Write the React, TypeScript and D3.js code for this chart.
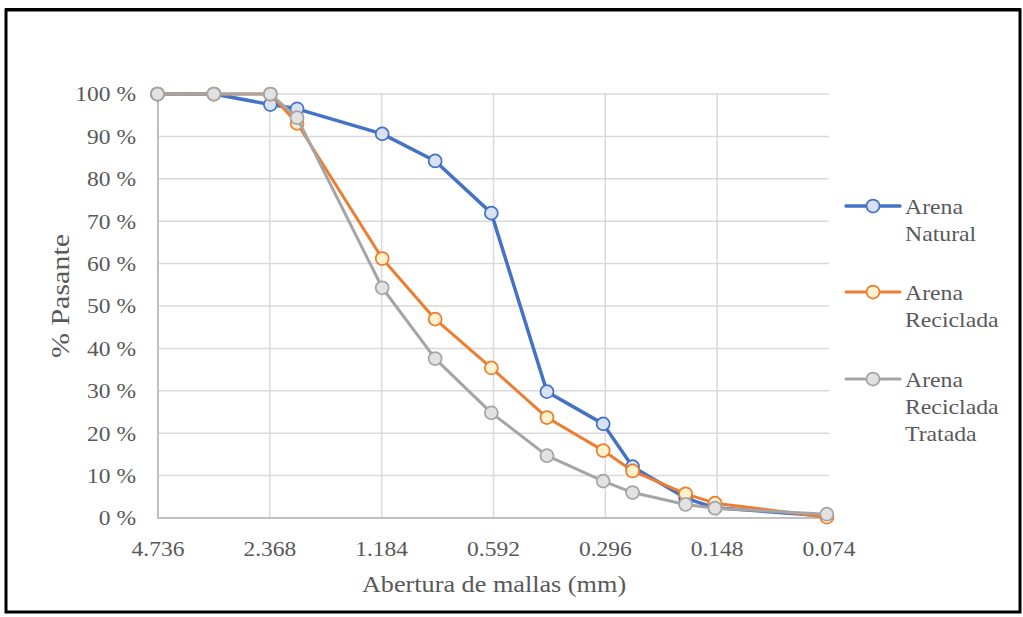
import React, { useEffect } from "react";
import * as d3 from "d3";

const sieves = [4.75, 3.35, 2.36, 2.0, 1.18, 0.85, 0.6, 0.425, 0.3, 0.25, 0.18, 0.15, 0.075];
const arenaNatural = [100, 100, 97.5, 96.5, 90.6, 84.2, 71.9, 29.8, 22.2, 12.1, 4.7, 2.4, 0.5];
const arenaReciclada = [100, 100, 100, 93.1, 61.2, 46.9, 35.4, 23.7, 15.9, 11.1, 5.7, 3.5, 0.2];
const arenaTratada = [100, 100, 100, 94.4, 54.3, 37.6, 24.8, 14.7, 8.7, 6.0, 3.2, 2.3, 0.9];
const xTicks = [4.736, 2.368, 1.184, 0.592, 0.296, 0.148, 0.074];
const xTickLabels = ["4.736", "2.368", "1.184", "0.592", "0.296", "0.148", "0.074"];
const yTicks = [0, 10, 20, 30, 40, 50, 60, 70, 80, 90, 100];

const series = [
  { name: ["Arena", "Natural"], values: arenaNatural, stroke: "#4472C4", fill: "#D9E2F3", width: 3.5 },
  { name: ["Arena", "Reciclada"], values: arenaReciclada, stroke: "#ED7D31", fill: "#FFF2CC", width: 3 },
  { name: ["Arena", "Reciclada", "Tratada"], values: arenaTratada, stroke: "#A5A5A5", fill: "#E2E2E2", width: 3 },
];

const W = 1023;
const H = 617;
const FONT = "'Liberation Serif', 'Times New Roman', serif";
const SX = 1.12;

function T(props: { x: number; y: number; anchor?: string; size: number; sx?: number; children: any; dy?: string }) {
  const { x, y, anchor = "start", size, sx = SX, children, dy } = props;
  return (
    <text
      transform={`translate(${x},${y}) scale(${sx},1)`}
      textAnchor={anchor}
      fontSize={size}
      fill="#595959"
      dy={dy}
    >
      {children}
    </text>
  );
}

export default function App() {
  useEffect(() => {
    document.body.style.margin = "0";
  }, []);

  const x = d3.scaleLog().base(2).domain([4.736, 0.074]).range([158, 829]);
  const y = d3.scaleLinear().domain([0, 100]).range([518, 94]);
  const line = d3
    .line<number>()
    .x((_, i) => x(sieves[i]))
    .y((d) => y(d));

  const legendY = [206, 292, 379];

  return (
    <svg width={W} height={H} style={{ display: "block" }} fontFamily={FONT}>
      <rect x={0} y={0} width={W} height={H} fill="#fff" />
      {/* frame */}
      <rect x={6} y={10} width={1014} height={602} fill="none" stroke="#000" strokeWidth={3} />
      <line x1={5} x2={1021} y1={9.5} y2={9.5} stroke="#000" strokeWidth={3} />

      {/* horizontal grid */}
      {yTicks.map((t) =>
        t === 0 ? null : (
          <line key={"h" + t} x1={158} x2={829} y1={y(t)} y2={y(t)} stroke="#D9D9D9" strokeWidth={1.5} />
        )
      )}
      {/* vertical grid */}
      {xTicks.slice(1, -1).map((t) => (
        <line key={"v" + t} x1={x(t)} x2={x(t)} y1={94} y2={518} stroke="#D9D9D9" strokeWidth={1.5} />
      ))}
      {/* axes */}
      <line x1={158} x2={158} y1={94} y2={519} stroke="#BFBFBF" strokeWidth={2} />
      <line x1={157} x2={829} y1={518} y2={518} stroke="#BFBFBF" strokeWidth={2} />

      {/* y tick labels */}
      {yTicks.map((t) => (
        <T key={"yl" + t} x={136} y={y(t)} dy="0.35em" anchor="end" size={21}>
          {t + " %"}
        </T>
      ))}
      {/* x tick labels */}
      {xTicks.map((t, i) => (
        <T key={"xl" + t} x={x(t)} y={556} anchor="middle" size={21}>
          {xTickLabels[i]}
        </T>
      ))}

      {/* axis titles */}
      <T x={494} y={592} anchor="middle" size={23} sx={1.14}>
        Abertura de mallas (mm)
      </T>
      <text
        transform={`translate(69,${296}) rotate(-90) scale(1.2,1)`}
        textAnchor="middle"
        fontSize={25}
        fill="#595959"
      >
        % Pasante
      </text>

      {/* series */}
      {series.map((s, si) => (
        <g key={"s" + si}>
          <path d={line(s.values) || ""} fill="none" stroke={s.stroke} strokeWidth={s.width} strokeLinejoin="round" />
          {s.values.map((v, i) => (
            <circle key={i} cx={x(sieves[i])} cy={y(v)} r={6.5} fill={s.fill} stroke={s.stroke} strokeWidth={1.75} />
          ))}
        </g>
      ))}

      {/* legend */}
      {series.map((s, si) => (
        <g key={"lg" + si}>
          <line x1={846} x2={900} y1={legendY[si]} y2={legendY[si]} stroke={s.stroke} strokeWidth={s.width} strokeLinecap="round" />
          <circle cx={873} cy={legendY[si]} r={6.5} fill={s.fill} stroke={s.stroke} strokeWidth={1.75} />
          {s.name.map((n, k) => (
            <T key={k} x={905} y={legendY[si] + 8 + k * 27} size={22} sx={1.08}>
              {n}
            </T>
          ))}
        </g>
      ))}
    </svg>
  );
}
